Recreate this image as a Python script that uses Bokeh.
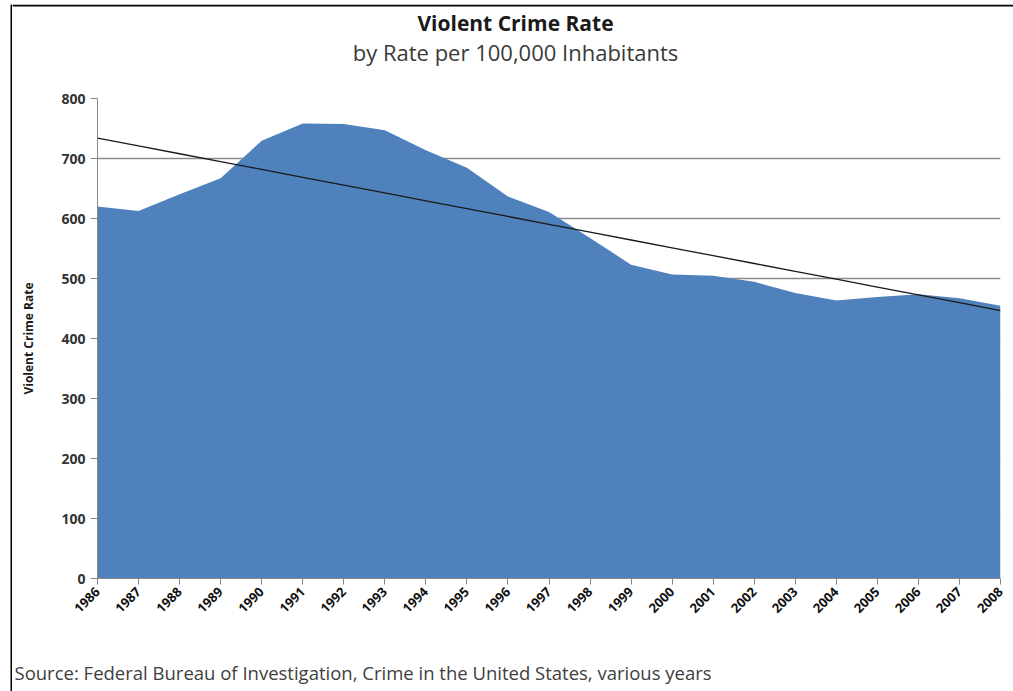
import numpy as np
from bokeh.plotting import figure
from bokeh.layouts import column, row
from bokeh.models import Range1d, FixedTicker, BoxAnnotation
from bokeh.core.properties import value
from bokeh.embed import file_html
from bokeh.resources import INLINE

years = list(range(1986, 2009))
rates = [620.1, 612.5, 640.6, 666.9, 729.6, 758.2, 757.7, 747.1, 713.6, 684.5,
         636.6, 611.0, 567.6, 523.0, 506.5, 504.5, 494.4, 475.8, 463.2, 469.0,
         473.6, 466.9, 454.5]
y_ticks = [0, 100, 200, 300, 400, 500, 600, 700, 800]

title_text = "Violent Crime Rate"
subtitle_text = "by Rate per 100,000 Inhabitants"
y_label_text = "Violent Crime Rate"
source_text = "Source: Federal Bureau of Investigation, Crime in the United States, various years"

# linear trend line (least squares) over the series
coef = np.polyfit(years, rates, 1)
trend = list(np.polyval(coef, years))

FONT = "Open Sans"
W = 1001
HEAD_H = 80
EDGE = 2
MAIN_H = 540
FOOT_H = 65


def no_frame_align(fig):
    if "frame_align" in fig.properties():
        fig.frame_align = False


def blank(width, height, color="white"):
    f = figure(width=width, height=height, output_backend="svg", toolbar_location=None,
               x_range=Range1d(0, width), y_range=Range1d(0, height),
               x_axis_type=None, y_axis_type=None, min_border=0)
    no_frame_align(f)
    f.grid.visible = False
    f.outline_line_color = None
    f.background_fill_color = color
    f.border_fill_color = color
    return f


# ---- header (black top edge + title + subtitle) ----
head = blank(W, HEAD_H + EDGE)
head.add_layout(BoxAnnotation(bottom=HEAD_H, fill_color="black", fill_alpha=1.0,
                              line_color=None))
head.text(x=[503], y=[64], text=[title_text], text_font=value(FONT),
          text_font_style="bold", text_font_size="21px", text_color="#1a1a1a",
          text_align="center", text_baseline="middle")
head.text(x=[503], y=[35], text=[subtitle_text], text_font=value(FONT),
          text_font_size="22px", text_color="#3a3a3a",
          text_align="center", text_baseline="middle")

# ---- main chart ----
p = figure(width=W, height=MAIN_H, output_backend="svg", toolbar_location=None,
           x_range=Range1d(years[0], years[-1]), y_range=Range1d(0, 800),
           min_border_left=85, min_border_right=13, min_border_top=12,
           min_border_bottom=48, title=None)
p.outline_line_color = None

p.varea(x=years, y1=[0] * len(years), y2=rates, fill_color="#4F81BD")
p.line(years, trend, line_color="#1a1a1a", line_width=1.3)

p.xaxis.ticker = FixedTicker(ticks=years)
p.yaxis.ticker = FixedTicker(ticks=y_ticks)
p.xaxis.major_label_orientation = np.pi / 4
for ax in (p.xaxis, p.yaxis):
    ax.axis_line_color = "#868686"
    ax.major_tick_line_color = "#868686"
    ax.major_tick_in = 0
    ax.minor_tick_line_color = None
    ax.major_label_text_font = FONT
    ax.major_label_text_font_style = "bold"
p.xaxis.major_tick_out = 6
p.yaxis.major_tick_out = 7
p.xaxis.major_label_text_font_size = "13px"
p.xaxis.major_label_text_color = "#111111"
p.yaxis.major_label_text_font_size = "14px"
p.yaxis.major_label_text_color = "#333333"
p.xaxis.major_label_standoff = 5
p.yaxis.major_label_standoff = 5
p.yaxis.axis_label = y_label_text
p.yaxis.axis_label_text_font = FONT
p.yaxis.axis_label_text_font_style = "bold"
p.yaxis.axis_label_text_font_size = "12px"
p.yaxis.axis_label_text_color = "#1a1a1a"
p.yaxis.axis_label_standoff = 21

p.xgrid.grid_line_color = None
p.ygrid.grid_line_color = "#8c8c8c"
p.ygrid.grid_line_width = 1.5

# ---- footer (source) ----
foot = blank(W, FOOT_H)
foot.text(x=[2], y=[19], text=[source_text], text_font=value(FONT),
          text_font_size="18.5px", text_color="#404040",
          text_align="left", text_baseline="middle")

# ---- black left edge ----
left_bar = blank(EDGE, HEAD_H + EDGE + MAIN_H + FOOT_H, "black")

layout = row(left_bar, column(head, p, foot, spacing=0), spacing=0)
layout.styles = {"margin-left": "10px", "margin-top": "4px"}

open("out.html", "w").write(file_html(layout, INLINE))
